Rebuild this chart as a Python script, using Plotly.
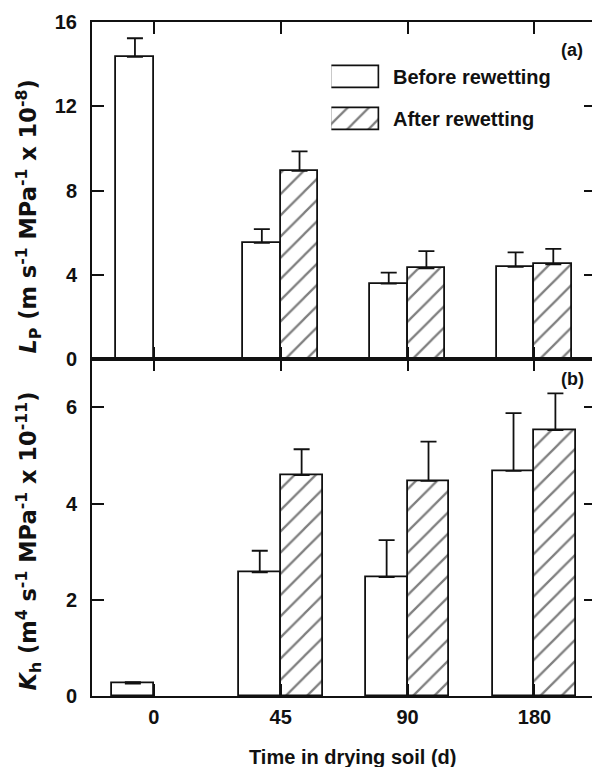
import plotly.graph_objects as go

# ---------------- data ----------------
categories = ["0", "45", "90", "180"]
after_categories = ["45", "90", "180"]

lp_before = [14.35, 5.52, 3.59, 4.38]
lp_before_err = [0.88, 0.65, 0.52, 0.69]
lp_after = [8.94, 4.31, 4.50]
lp_after_err = [0.92, 0.82, 0.74]

kh_before = [0.26, 2.57, 2.47, 4.68]
kh_before_err = [0.03, 0.45, 0.77, 1.20]
kh_after = [4.59, 4.47, 5.53]
kh_after_err = [0.54, 0.82, 0.76]

lp_ticks = [0, 4, 8, 12, 16]
kh_ticks = [0, 2, 4, 6]

legend_labels = ["Before rewetting", "After rewetting"]

# ---------------- style ----------------
FONT = "Liberation Sans, Arial, Helvetica, sans-serif"
TITLE_FONT = "DejaVu Sans, Liberation Sans, Arial, sans-serif"
BLACK = "#111111"
W_TOP = 0.297
W_BOT = 0.33
HATCH = dict(shape="/", fgcolor="black", bgcolor="white", size=15, solidity=0.15)


def errbar(arr):
    return dict(type="data", symmetric=False, array=arr, arrayminus=[0] * len(arr),
                color=BLACK, thickness=1.8, width=8, visible=True)


fig = go.Figure()

# top panel (Lp)
fig.add_trace(go.Bar(x=categories, y=lp_before, xaxis="x", yaxis="y",
                     width=W_TOP, offset=-W_TOP,
                     marker=dict(color="white", line=dict(color=BLACK, width=1.8)),
                     error_y=errbar(lp_before_err), showlegend=False))
fig.add_trace(go.Bar(x=after_categories, y=lp_after, xaxis="x", yaxis="y",
                     width=W_TOP, offset=0,
                     marker=dict(color="white", line=dict(color=BLACK, width=1.8), pattern=HATCH),
                     error_y=errbar(lp_after_err), showlegend=False))

# bottom panel (Kh)
fig.add_trace(go.Bar(x=categories, y=kh_before, xaxis="x2", yaxis="y2",
                     width=W_BOT, offset=-W_BOT,
                     marker=dict(color="white", line=dict(color=BLACK, width=1.8)),
                     error_y=errbar(kh_before_err), showlegend=False))
fig.add_trace(go.Bar(x=after_categories, y=kh_after, xaxis="x2", yaxis="y2",
                     width=W_BOT, offset=0,
                     marker=dict(color="white", line=dict(color=BLACK, width=1.8), pattern=HATCH),
                     error_y=errbar(kh_after_err), showlegend=False))

# legend swatches (drawn on a small hidden axis)
fig.add_trace(go.Bar(x=[1], y=[1], orientation="h", xaxis="x3", yaxis="y3", width=0.51,
                     marker=dict(color="white", line=dict(color=BLACK, width=1.8)),
                     cliponaxis=False, showlegend=False, hoverinfo="skip"))
fig.add_trace(go.Bar(x=[1], y=[0], orientation="h", xaxis="x3", yaxis="y3", width=0.51,
                     marker=dict(color="white", line=dict(color=BLACK, width=1.8), pattern=HATCH),
                     cliponaxis=False, showlegend=False, hoverinfo="skip"))

tickfont = dict(family=FONT, size=20, color=BLACK, weight="bold")
xr = [-0.487, 3.485]
common_x = dict(type="category", range=xr, showline=True, linewidth=2, linecolor=BLACK,
                mirror="ticks", ticks="inside", ticklen=12, tickwidth=1.8, tickcolor=BLACK,
                showgrid=False, zeroline=False, fixedrange=True)
common_y = dict(showline=True, linewidth=2, linecolor=BLACK, mirror="ticks", ticks="inside",
                ticklen=12, tickwidth=1.8, tickcolor=BLACK, showgrid=False, zeroline=False,
                tickfont=tickfont, ticklabelstandoff=9)

# the page body adds an 8px offset, so the figure is 8px smaller and shifted
fig.update_layout(
    width=592, height=759,
    margin=dict(l=84, r=2, t=13.7, b=71.3),
    paper_bgcolor="white", plot_bgcolor="white",
    barmode="overlay", bargap=0,
    showlegend=False,
    xaxis=dict(common_x, anchor="y", domain=[0, 1], showticklabels=False,
               categoryorder="array", categoryarray=categories),
    yaxis=dict(common_y, anchor="x", domain=[0.4996, 1], range=[0, 16], tickvals=lp_ticks),
    xaxis2=dict(common_x, anchor="y2", domain=[0, 1], showticklabels=True, tickfont=tickfont,
                ticklabelstandoff=2, categoryorder="array", categoryarray=categories),
    yaxis2=dict(common_y, anchor="x2", domain=[0, 0.4996], range=[0, 7], tickvals=kh_ticks),
    xaxis3=dict(domain=[0.4749, 0.5706], range=[0, 1], visible=False, anchor="y3", fixedrange=True),
    yaxis3=dict(domain=[0.8304, 0.9432], range=[-0.397, 1.397], visible=False, anchor="x3",
                fixedrange=True),
)

ann_font = dict(family=FONT, size=20, color=BLACK, weight="bold")
ytitle_font = dict(family=TITLE_FONT, size=22.5, color=BLACK, weight="bold")
annotations = [
    dict(text="<i>L</i><sub>P</sub> (m s<sup>-1</sup> MPa<sup>-1</sup> x 10<sup>-8</sup>)",
         xref="paper", yref="paper", x=-0.1265, y=0.7117, textangle=-90,
         showarrow=False, font=ytitle_font, xanchor="center", yanchor="middle"),
    dict(text="<i>K</i><sub>h</sub> (m<sup>4</sup> s<sup>-1</sup> MPa<sup>-1</sup> x 10<sup>-11</sup>)",
         xref="paper", yref="paper", x=-0.1265, y=0.2295, textangle=-90,
         showarrow=False, font=ytitle_font, xanchor="center", yanchor="middle"),
    dict(text="Time in drying soil (d)", xref="paper", yref="paper", x=0.516, y=-0.091,
         showarrow=False, font=ann_font, xanchor="center", yanchor="middle"),
    dict(text="(a)", xref="paper", yref="paper", x=0.9526, y=0.958, showarrow=False,
         font=dict(family=FONT, size=18, color=BLACK, weight="bold"),
         xanchor="center", yanchor="middle"),
    dict(text="(b)", xref="paper", yref="paper", x=0.9526, y=0.4699, showarrow=False,
         font=dict(family=FONT, size=18, color=BLACK, weight="bold"),
         xanchor="center", yanchor="middle"),
    dict(text=legend_labels[0], xref="paper", yref="paper", x=0.5929, y=0.918,
         showarrow=False, font=ann_font, xanchor="left", yanchor="middle"),
    dict(text=legend_labels[1], xref="paper", yref="paper", x=0.5929, y=0.8556,
         showarrow=False, font=ann_font, xanchor="left", yanchor="middle"),
]
fig.update_layout(annotations=annotations)

fig.write_html("out.html", config={"displayModeBar": False})
